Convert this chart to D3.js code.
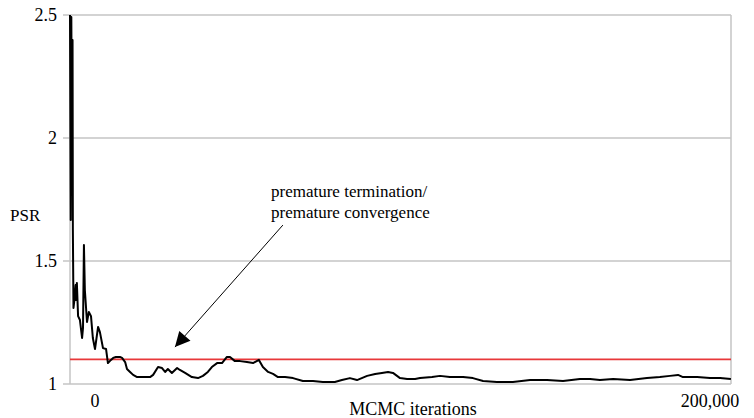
<!DOCTYPE html>
<html>
<head>
<meta charset="utf-8">
<script src="https://cdn.jsdelivr.net/npm/d3@7"></script>
<style>
  body { margin: 0; background: #fff; }
  svg text { font-family: "Liberation Serif", "Times New Roman", Times, serif; }
</style>
</head>
<body>
<svg id="chart" width="754" height="418"></svg>
<script>
// PSR trace over MCMC iterations
const iterations = [
  -8130, -7900, -7700, -7500, -7300, -7200, -7000, -6700, -6300, -6100,
  -5900, -5500, -4900, -4200, -3900, -3600, -3300, -2600, -2000, -1300,
  -700, 0, 1000, 1600, 2600, 3600, 4200, 5200, 5900, 6800,
  7500, 8100, 8800, 9800, 10400, 11400, 12400, 13700, 15000, 16300,
  17900, 18900, 20500, 21800, 22800, 23700, 25000, 26700, 27600, 29300,
  31500, 33500, 35100, 36700, 38000, 39700, 41300, 42900, 43900, 45500,
  47200, 49400, 51400, 53300, 54600, 56300, 57900, 59500, 61800, 64400,
  67600, 70900, 74100, 78000, 80300, 82900, 85200, 88500, 91100, 93300,
  95300, 96900, 99200, 101500, 104100, 105700, 109600, 112200, 115400, 119700,
  122900, 126200, 130700, 135900, 141500, 147000, 152200, 157700, 161000, 164200,
  168500, 174000, 179500, 183700, 187000, 189600, 191200, 195800, 200000, 203300,
  206800
];
const psr = [
  2.5, 1.667, 2.492, 1.951, 2.398, 1.626, 1.309, 1.341, 1.402, 1.341,
  1.411, 1.276, 1.26, 1.187, 1.228, 1.565, 1.382, 1.252, 1.293, 1.276,
  1.187, 1.142, 1.232, 1.211, 1.146, 1.142, 1.085, 1.098, 1.106, 1.11,
  1.11, 1.11, 1.106, 1.089, 1.061, 1.049, 1.037, 1.028, 1.028, 1.028,
  1.028, 1.037, 1.069, 1.065, 1.049, 1.061, 1.045, 1.065, 1.057, 1.045,
  1.028, 1.024, 1.033, 1.049, 1.069, 1.085, 1.085, 1.11, 1.11, 1.093,
  1.093, 1.089, 1.085, 1.098, 1.069, 1.049, 1.041, 1.028, 1.028, 1.024,
  1.012, 1.012, 1.008, 1.008, 1.016, 1.024, 1.016, 1.033, 1.041, 1.045,
  1.049, 1.045, 1.024, 1.02, 1.02, 1.024, 1.028, 1.033, 1.028, 1.028,
  1.024, 1.012, 1.008, 1.008, 1.016, 1.016, 1.012, 1.02, 1.02, 1.016,
  1.02, 1.016, 1.024, 1.028, 1.033, 1.037, 1.028, 1.028, 1.024, 1.024,
  1.02
];
const threshold = 1.1;
const yTicks = [1, 1.5, 2, 2.5];
const yTickLabels = ["1", "1.5", "2", "2.5"];
const xTicks = [0, 200000];
const xTickLabels = ["0", "200,000"];

// annotation: text + arrow from/to (iteration, PSR)
const noteLines = ["premature termination/", "premature convergence"];
const arrowFrom = [61100, 1.646];
const arrowTo = [26000, 1.150];

const svg = d3.select("#chart");
const margin = { left: 70, right: 23, top: 15, bottom: 34 };
const width = 754 - margin.left - margin.right;
const height = 418 - margin.top - margin.bottom;

const x = d3.scaleLinear().domain([-8130, 206830]).range([0, width]);
const y = d3.scaleLinear().domain([1, 2.5]).range([height, 0]);

const g = svg.append("g").attr("transform", `translate(${margin.left},${margin.top})`);

// gridlines + small ticks out to the left
g.selectAll(".grid")
  .data(yTicks)
  .enter().append("line")
  .attr("x1", -7).attr("x2", width)
  .attr("y1", d => y(d)).attr("y2", d => y(d))
  .attr("stroke", "#c4c4c4").attr("stroke-width", 1.5);

// left axis line and right border
g.append("line").attr("x1", 0).attr("x2", 0).attr("y1", 0).attr("y2", height)
  .attr("stroke", "#c4c4c4").attr("stroke-width", 1.5);
g.append("line").attr("x1", width).attr("x2", width).attr("y1", 0).attr("y2", height)
  .attr("stroke", "#c4c4c4").attr("stroke-width", 1.5);

// y tick labels
g.selectAll(".ylab")
  .data(yTicks)
  .enter().append("text")
  .attr("x", -13)
  .attr("y", d => y(d))
  .attr("dy", "0.35em")
  .attr("text-anchor", "end")
  .style("font-size", "18px")
  .text((d, i) => yTickLabels[i]);

// x tick labels
g.selectAll(".xlab")
  .data(xTicks)
  .enter().append("text")
  .attr("x", d => x(d))
  .attr("y", height + 23)
  .attr("text-anchor", "middle")
  .style("font-size", "18px")
  .text((d, i) => xTickLabels[i]);

// axis titles
svg.append("text").attr("x", 10).attr("y", 221).style("font-size", "17px").text("PSR");
svg.append("text").attr("x", 413).attr("y", 415).attr("text-anchor", "middle")
  .style("font-size", "18px").text("MCMC iterations");

// threshold line
g.append("line")
  .attr("x1", 0).attr("x2", width)
  .attr("y1", y(threshold)).attr("y2", y(threshold))
  .attr("stroke", "#e8383a").attr("stroke-width", 1.6);

// PSR trace
const line = d3.line()
  .x((d, i) => x(iterations[i]))
  .y(d => y(d));

g.append("path")
  .datum(psr)
  .attr("fill", "none")
  .attr("stroke", "#000")
  .attr("stroke-width", 2)
  .attr("stroke-linejoin", "round")
  .attr("d", line);

// annotation
svg.append("defs").append("marker")
  .attr("id", "arrowhead")
  .attr("viewBox", "0 0 10 10")
  .attr("refX", 10).attr("refY", 5)
  .attr("markerWidth", 22).attr("markerHeight", 15)
  .attr("markerUnits", "userSpaceOnUse")
  .attr("orient", "auto")
  .append("path").attr("d", "M0,0 L10,5 L0,10 Z").attr("fill", "#000");

g.append("line")
  .attr("x1", x(arrowFrom[0])).attr("y1", y(arrowFrom[1]))
  .attr("x2", x(arrowTo[0])).attr("y2", y(arrowTo[1]))
  .attr("stroke", "#000").attr("stroke-width", 1)
  .attr("marker-end", "url(#arrowhead)");

svg.selectAll(".note")
  .data(noteLines)
  .enter().append("text")
  .attr("x", 271)
  .attr("y", (d, i) => 197 + i * 21)
  .style("font-size", "17px")
  .text(d => d);
</script>
</body>
</html>
